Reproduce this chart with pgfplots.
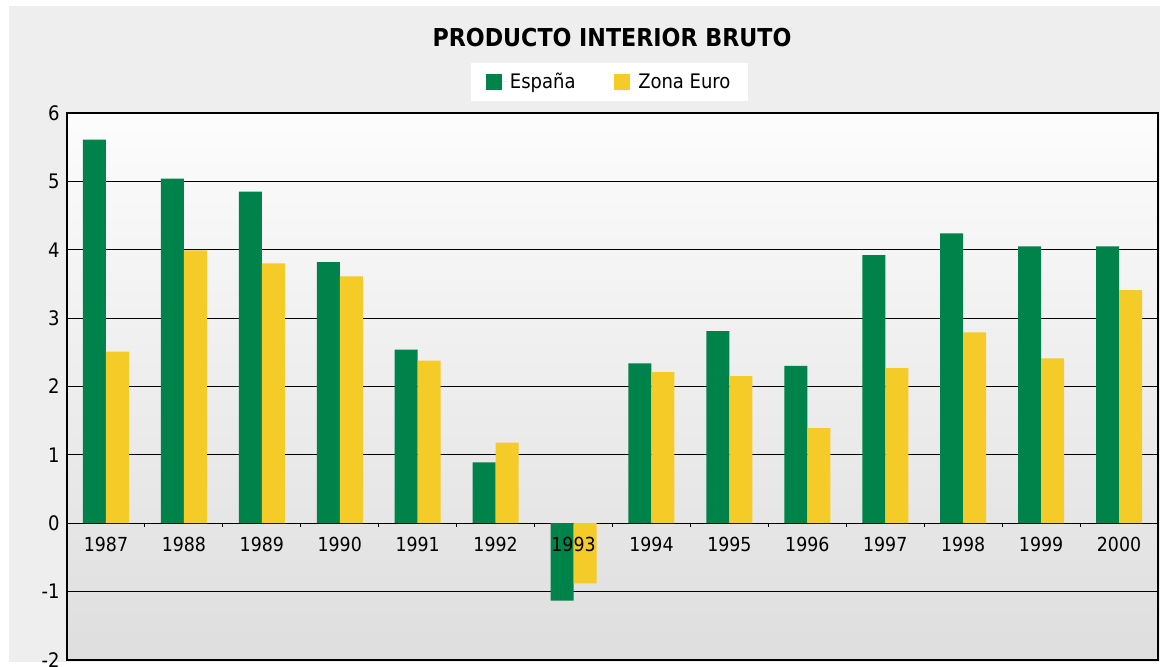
\documentclass[border=0pt]{standalone}
\usepackage{pgfplots}
\pgfplotsset{compat=1.18}
\usepackage{fontspec}
\setmainfont{DejaVu Sans Condensed}
\definecolor{esp}{HTML}{00834A}
\definecolor{eur}{HTML}{F5CB27}
\definecolor{bgout}{HTML}{EEEEEE}
\begin{document}
\begin{tikzpicture}
\useasboundingbox (0pt,0pt) rectangle (876pt,500.25pt);
\fill[white] (0pt,0pt) rectangle (876pt,500.25pt);
\fill[bgout] (6.75pt,3.75pt) rectangle (870pt,495.75pt);
\node[font=\bfseries\fontsize{18.5}{22}\selectfont] at (459pt,471.75pt) {PRODUCTO INTERIOR BRUTO};
\begin{axis}[
  at={(50.25pt,5.25pt)}, anchor=south west, scale only axis,
  width=818.25pt, height=410.25pt,
  xmin=-0.5, xmax=13.5, ymin=-2, ymax=6,
  ytick={-2,-1,0,1,2,3,4,5,6},
  xtick=\empty,
  ytick style={draw=none},
  yticklabel style={font=\fontsize{15}{16}\selectfont, xshift=-2pt},
  /pgf/number format/assume math mode=true,
  ymajorgrids, grid style={black, line width=0.9pt},
  axis line style={black, line width=1pt},
  axis background/.style={shade, top color=white!99!black, bottom color=black!13},
  ybar=0pt, bar width=17.25pt,
  legend style={at={(0.4973,1)}, anchor=south, yshift=9pt, draw=none, fill=white,
    font=\fontsize{15}{17}\selectfont, inner xsep=11pt, inner ysep=5.5pt,
    /tikz/every even column/.append style={column sep=27pt}},
  legend columns=2,
  legend image code/.code={\fill[#1] (0pt,-6pt) rectangle (12pt,6pt); \path (0pt,0pt) -- (16pt,0pt);},
]
\addplot[fill=esp, draw=none] coordinates {(0,5.61) (1,5.04) (2,4.85) (3,3.82) (4,2.54) (5,0.89) (6,-1.13) (7,2.34) (8,2.81) (9,2.30) (10,3.92) (11,4.24) (12,4.05) (13,4.05)};
\addplot[fill=eur, draw=none] coordinates {(0,2.51) (1,3.99) (2,3.80) (3,3.61) (4,2.38) (5,1.18) (6,-0.88) (7,2.21) (8,2.15) (9,1.39) (10,2.27) (11,2.79) (12,2.41) (13,3.41)};
\legend{España, Zona Euro}
\pgfplotsinvokeforeach{0.5,1.5,...,12.5}{\draw[black, line width=0.8pt] (axis cs:#1,0) -- ++(0pt,-3pt);}
\pgfplotsinvokeforeach{0,...,13}{\node[anchor=base, yshift=-21pt, font=\fontsize{14.5}{16}\selectfont] at (axis cs:#1,0) {\pgfmathparse{int(1987+#1)}\pgfmathresult};}
\end{axis}
\end{tikzpicture}
\end{document}
